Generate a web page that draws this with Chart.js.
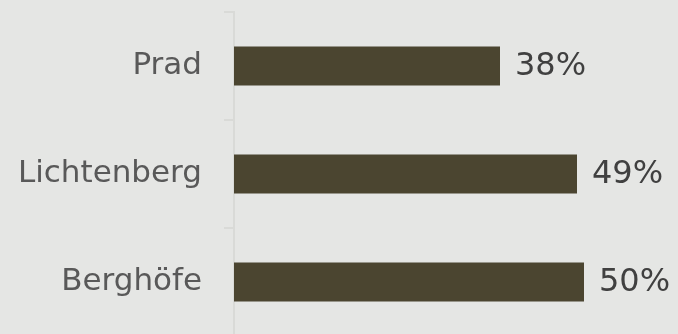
<!DOCTYPE html>
<html><head><meta charset="utf-8">
<script src="https://cdn.jsdelivr.net/npm/chart.js@4/dist/chart.umd.min.js"></script>
<style>
html,body{margin:0;padding:0;background:#e5e6e4;overflow:hidden;width:678px;height:334px;}
canvas{display:block;}
</style></head>
<body>
<canvas id="c" width="678" height="336"></canvas>
<script>
const categories = ["Prad", "Lichtenberg", "Berghöfe"];
const values = [38, 49, 50];
const valueLabels = ["38%", "49%", "50%"];

const FONT = "'DejaVu Sans', sans-serif";

const valuePlugin = {
  id: 'valueLabels',
  afterDatasetsDraw(chart) {
    const ctx = chart.ctx;
    const meta = chart.getDatasetMeta(0);
    ctx.save();
    ctx.font = "32px " + FONT;
    ctx.fillStyle = "#404040";
    ctx.textAlign = "left";
    ctx.textBaseline = "middle";
    meta.data.forEach((bar, i) => {
      ctx.fillText(valueLabels[i], bar.x + 15, bar.y + 1);
    });
    ctx.restore();
  }
};

new Chart(document.getElementById('c'), {
  type: 'bar',
  data: {
    labels: categories,
    datasets: [{
      data: values,
      backgroundColor: '#4b4530',
      borderWidth: 0,
      barPercentage: 0.6,
      categoryPercentage: 0.6
    }]
  },
  options: {
    indexAxis: 'y',
    responsive: false,
    animation: false,
    layout: { padding: { left: 18, top: 12, right: 3, bottom: 0 } },
    plugins: { legend: { display: false }, tooltip: { enabled: false } },
    scales: {
      x: { display: false, min: 0, max: 63 },
      y: {
        afterFit(s) { s.paddingTop = 0; s.paddingBottom = 0; s.width = 216; },
        grid: { display: true, drawOnChartArea: false, tickLength: 10, color: '#d9dad7', lineWidth: 2, offset: true },
        border: { display: true, color: '#d9dad7', width: 2 },
        ticks: { color: '#595959', font: { family: FONT, size: 31 }, padding: 22 }
      }
    }
  },
  plugins: [valuePlugin]
});
</script>
</body></html>
